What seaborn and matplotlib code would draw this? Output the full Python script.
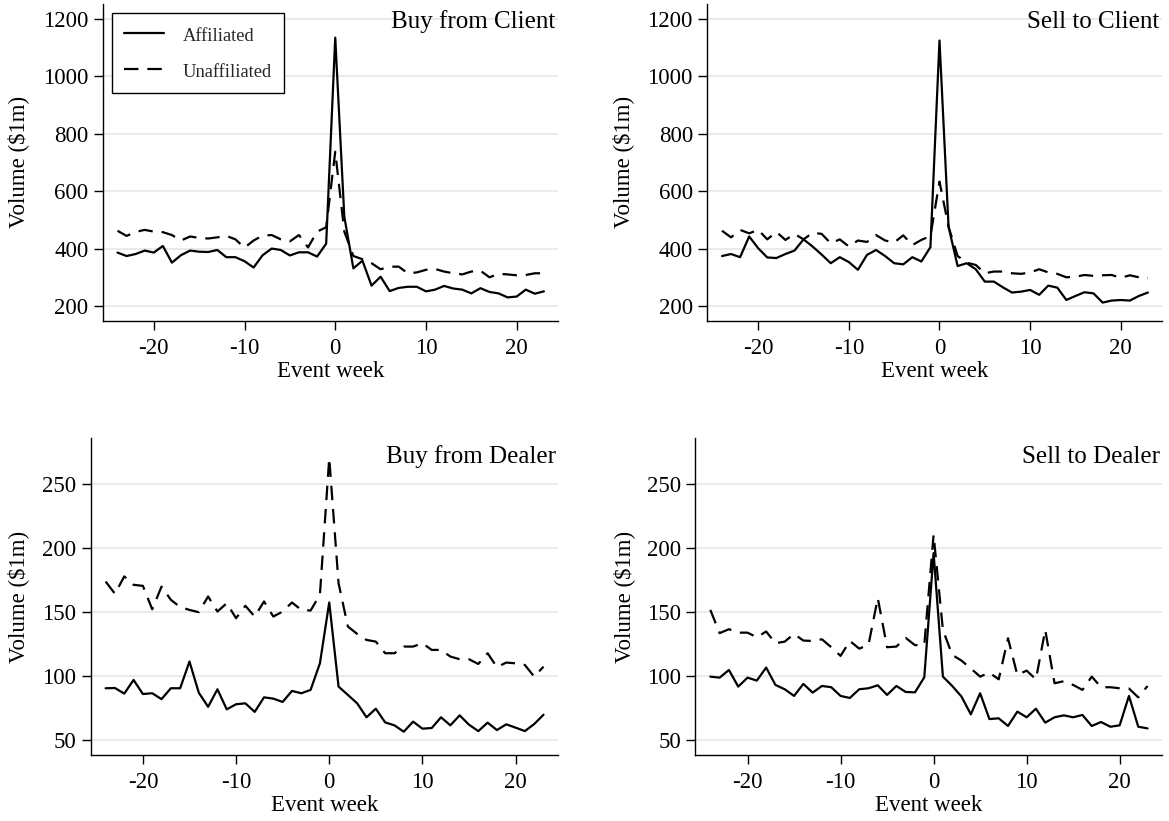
import matplotlib.pyplot as plt
import numpy as np
import pandas as pd
import seaborn as sns

sns.set_theme(style="ticks")
plt.rcParams['font.family'] = ['Liberation Serif', 'DejaVu Serif']
plt.rcParams['axes.unicode_minus'] = False

weeks = list(range(-24, 24))

# Buy from Client
bc_aff = [387, 375, 382, 394, 387, 410, 352, 378, 394, 390, 389, 396, 371, 371, 357, 335,
          378, 401, 396, 377, 388, 388, 373, 418, 1135, 512, 332, 359, 272, 303, 253, 264,
          268, 268, 252, 258, 271, 262, 258, 245, 263, 250, 245, 231, 234, 258, 244, 252]
bc_unaff = [463, 445, 459, 466, 460, 458, 448, 429, 443, 438, 436, 440, 445, 433, 404, 429,
            446, 448, 433, 426, 448, 405, 460, 475, 738, 460, 375, 364, 350, 329, 338, 338,
            315, 318, 327, 330, 321, 315, 311, 321, 324, 301, 313, 311, 308, 309, 315, 315]

# Sell to Client
sc_aff = [375, 382, 371, 443, 402, 370, 368, 382, 394, 433, 408, 380, 350, 371, 354, 327,
          379, 396, 375, 350, 346, 371, 356, 406, 1125, 477, 340, 350, 329, 286, 286, 266,
          248, 251, 257, 240, 272, 265, 222, 236, 249, 245, 213, 220, 222, 220, 236, 248]
sc_unaff = [463, 440, 466, 454, 466, 433, 459, 431, 452, 433, 456, 452, 419, 433, 408, 429,
            424, 448, 429, 422, 447, 413, 431, 445, 634, 477, 375, 352, 344, 315, 321, 321,
            315, 313, 318, 329, 318, 313, 301, 303, 309, 306, 308, 309, 299, 308, 301, 299]

# Buy from Dealer
bd_aff = [90.5, 90.7, 86.3, 97.0, 86.0, 86.6, 82.0, 90.5, 90.5, 111.4, 87.0, 76.0, 89.7, 74.0,
          78.0, 78.7, 72.0, 83.4, 82.4, 79.8, 88.4, 86.6, 89.2, 110.0, 157.6, 91.8, 85.3, 78.7,
          67.8, 74.5, 63.8, 61.5, 56.5, 64.4, 58.9, 59.4, 67.8, 61.5, 69.3, 62.0, 57.0, 63.6,
          57.8, 62.3, 59.7, 57.0, 62.5, 69.8]
bd_unaff = [174.0, 164.4, 178.0, 171.4, 170.6, 152.3, 170.0, 159.7, 154.0, 151.8, 150.0, 162.3,
            150.5, 157.0, 145.3, 155.0, 146.6, 158.4, 146.6, 150.5, 157.6, 151.8, 151.3, 163.6,
            270.6, 172.7, 138.8, 133.0, 128.3, 127.0, 117.9, 117.9, 123.1, 123.1, 125.7, 120.5,
            120.5, 115.3, 113.2, 113.2, 109.5, 117.9, 107.0, 110.6, 110.0, 108.7, 99.6, 107.4]

# Sell to Dealer
sd_aff = [99.6, 98.8, 104.8, 91.8, 98.8, 96.5, 106.7, 93.1, 89.7, 84.5, 93.9, 87.1, 92.3, 91.3,
          84.5, 82.9, 89.7, 90.5, 92.8, 85.3, 92.3, 87.6, 87.3, 99.1, 196.2, 99.6, 92.3, 84.0,
          70.1, 86.6, 66.4, 67.0, 61.0, 72.2, 67.8, 74.5, 63.6, 67.8, 69.3, 67.8, 69.6, 61.0,
          64.1, 60.4, 61.5, 84.5, 60.4, 59.1]
sd_unaff = [151.8, 133.6, 136.7, 134.0, 134.0, 130.4, 134.9, 125.7, 127.0, 133.0, 127.8, 127.5,
            128.8, 122.6, 115.8, 127.5, 121.5, 124.4, 161.0, 122.6, 123.1, 129.9, 124.2, 124.4,
            210.6, 136.2, 116.6, 112.1, 106.0, 99.6, 102.7, 97.5, 129.6, 100.9, 104.3, 97.5,
            136.2, 94.4, 96.0, 93.1, 89.2, 99.6, 91.3, 91.3, 90.5, 90.3, 83.4, 92.3]

client_yticks = [200, 400, 600, 800, 1000, 1200]
dealer_yticks = [50, 100, 150, 200, 250]
xticks = [-20, -10, 0, 10, 20]


def panel_frame(aff, unaff):
    return pd.DataFrame({
        'week': weeks * 2,
        'volume': aff + unaff,
        'group': ['Affiliated'] * len(weeks) + ['Unaffiliated'] * len(weeks),
    })


panels = [
    # rect, title, data, yticks, ylim, ylabel x (axes fraction)
    ([0.0881, 0.6094, 0.3892, 0.3857], 'Buy from Client', panel_frame(bc_aff, bc_unaff),
     client_yticks, (150, 1252), -0.186),
    ([0.6052, 0.6094, 0.3888, 0.3857], 'Sell to Client', panel_frame(sc_aff, sc_unaff),
     client_yticks, (150, 1252), -0.185),
    ([0.0776, 0.0804, 0.3997, 0.3857], 'Buy from Dealer', panel_frame(bd_aff, bd_unaff),
     dealer_yticks, (38.3, 286), -0.1545),
    ([0.5949, 0.0804, 0.3991, 0.3857], 'Sell to Dealer', panel_frame(sd_aff, sd_unaff),
     dealer_yticks, (38.3, 286), -0.154),
]

fig = plt.figure(figsize=(11.69, 8.21), dpi=100)

for i, (rect, title, df, yticks, ylim, ylab_x) in enumerate(panels):
    ax = fig.add_axes(rect)
    sns.lineplot(data=df, x='week', y='volume', style='group',
                 dashes={'Affiliated': '', 'Unaffiliated': (6.5, 4.0)},
                 color='black', linewidth=1.6, errorbar=None, ax=ax, legend=(i == 0))

    ax.set_xlim(-25.6, 24.55)
    ax.set_ylim(*ylim)
    ax.set_xticks(xticks)
    ax.set_yticks(yticks)
    ax.yaxis.grid(True, color='#e6e6e6', linewidth=1.2)
    ax.xaxis.grid(False)
    ax.set_axisbelow(True)
    sns.despine(ax=ax)
    for side in ['left', 'bottom']:
        ax.spines[side].set_linewidth(1.0)
        ax.spines[side].set_color('black')
    ax.tick_params(axis='both', direction='out', length=6.5, width=1.0,
                   color='black', labelsize=16.5, labelcolor='black')
    ax.tick_params(axis='x', pad=6)
    ax.tick_params(axis='y', pad=4)

    ax.set_xlabel('Event week', fontsize=16.5, color='black', va='center')
    ax.xaxis.set_label_coords(0.5, -0.161)
    ax.set_ylabel(r'Volume (\$1m)', fontsize=16.5, color='black', va='center')
    ax.yaxis.set_label_coords(ylab_x, 0.5)

    ax.text(0.995, 0.923, title, transform=ax.transAxes, ha='right', va='baseline',
            fontsize=18, color='black')

    if i == 0:
        handles, labels = ax.get_legend_handles_labels()
        keep = [(h, l) for h, l in zip(handles, labels) if l in ('Affiliated', 'Unaffiliated')]
        leg = ax.legend([h for h, _ in keep], [l for _, l in keep],
                        loc='upper left', bbox_to_anchor=(0.019, 0.9716), borderaxespad=0,
                        fontsize=13.3, handlelength=2.2, handleheight=1.3, handletextpad=1.0,
                        borderpad=0.66, labelspacing=0.82, frameon=True, fancybox=False,
                        framealpha=1, edgecolor='black', facecolor='white')
        leg.get_frame().set_linewidth(1.0)
        leg.set_title(None)

fig.savefig('out.png', dpi=100)
